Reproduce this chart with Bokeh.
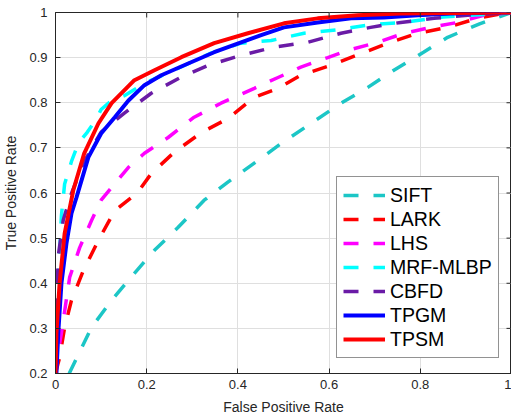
from bokeh.plotting import figure
from bokeh.models import FixedTicker, Legend, LegendItem, Range1d
from bokeh.embed import file_html
from bokeh.resources import INLINE
import math

# ---- data ----
sift_x = [0.03, 0.079, 0.123, 0.173, 0.217, 0.269, 0.326, 0.378, 0.444, 0.495, 0.56, 0.626, 0.685, 0.742, 0.807, 0.86, 0.93, 1.0]
sift_y = [0.2, 0.302, 0.362, 0.422, 0.473, 0.524, 0.584, 0.624, 0.672, 0.71, 0.754, 0.799, 0.834, 0.872, 0.912, 0.945, 0.975, 1.0]

lark_x = [0.0, 0.005, 0.009, 0.02, 0.035, 0.061, 0.094, 0.13, 0.18, 0.21, 0.26, 0.32, 0.378, 0.436, 0.488, 0.538, 0.604, 0.67, 0.735, 0.794, 0.86, 0.925, 0.983, 1.0]
lark_y = [0.2, 0.22, 0.235, 0.302, 0.362, 0.428, 0.495, 0.561, 0.601, 0.643, 0.69, 0.734, 0.765, 0.812, 0.832, 0.861, 0.883, 0.909, 0.934, 0.954, 0.967, 0.987, 0.998, 1.0]

lhs_x = [0.0, 0.004, 0.008, 0.013, 0.031, 0.053, 0.079, 0.1, 0.13, 0.16, 0.195, 0.247, 0.304, 0.363, 0.436, 0.488, 0.538, 0.597, 0.641, 0.707, 0.764, 0.823, 0.882, 0.939, 1.0]
lhs_y = [0.2, 0.23, 0.26, 0.29, 0.413, 0.479, 0.539, 0.584, 0.621, 0.657, 0.688, 0.723, 0.768, 0.799, 0.832, 0.856, 0.879, 0.9, 0.916, 0.934, 0.954, 0.967, 0.978, 0.994, 1.0]

mrf_x = [0.0, 0.004, 0.008, 0.013, 0.02, 0.035, 0.05, 0.07, 0.09, 0.1, 0.123, 0.15, 0.195, 0.26, 0.341, 0.407, 0.473, 0.545, 0.619, 0.691, 0.764, 0.85, 0.93, 1.0]
mrf_y = [0.2, 0.35, 0.45, 0.55, 0.62, 0.67, 0.71, 0.735, 0.765, 0.785, 0.805, 0.815, 0.843, 0.872, 0.91, 0.932, 0.938, 0.954, 0.962, 0.973, 0.978, 0.99, 0.995, 1.0]

cbfd_x = [0.0, 0.002, 0.006, 0.017, 0.035, 0.061, 0.08, 0.1, 0.13, 0.151, 0.21, 0.276, 0.335, 0.407, 0.479, 0.553, 0.626, 0.691, 0.757, 0.83, 0.904, 1.0]
cbfd_y = [0.2, 0.33, 0.46, 0.54, 0.599, 0.666, 0.7, 0.735, 0.76, 0.777, 0.821, 0.857, 0.883, 0.905, 0.923, 0.934, 0.954, 0.967, 0.978, 0.987, 0.994, 1.0]

tpgm_x = [0.002, 0.006, 0.013, 0.024, 0.035, 0.046, 0.072, 0.1, 0.13, 0.16, 0.195, 0.232, 0.291, 0.348, 0.407, 0.451, 0.501, 0.575, 0.648, 0.72, 0.794, 0.867, 1.0]
tpgm_y = [0.2, 0.289, 0.4, 0.488, 0.555, 0.59, 0.679, 0.732, 0.768, 0.805, 0.839, 0.861, 0.887, 0.912, 0.934, 0.95, 0.967, 0.978, 0.987, 0.989, 0.994, 0.998, 1.0]

tpsm_x = [0.0, 0.002, 0.009, 0.02, 0.039, 0.063, 0.094, 0.123, 0.173, 0.217, 0.276, 0.348, 0.422, 0.501, 0.575, 0.663, 0.757, 1.0]
tpsm_y = [0.2, 0.289, 0.4, 0.51, 0.606, 0.688, 0.754, 0.799, 0.85, 0.872, 0.901, 0.932, 0.954, 0.976, 0.987, 0.994, 0.998, 1.0]

series_names = ["SIFT", "LARK", "LHS", "MRF-MLBP", "CBFD", "TPGM", "TPSM"]
series_x = [sift_x, lark_x, lhs_x, mrf_x, cbfd_x, tpgm_x, tpsm_x]
series_y = [sift_y, lark_y, lhs_y, mrf_y, cbfd_y, tpgm_y, tpsm_y]
series_colors = ["#1CC6C6", "#FF0000", "#FF00FF", "#00FFFF", "#6A1BA6", "#0000FF", "#FF0000"]
series_dash = ["15 15", "15 15", "15 15", "15 15", "15 15", "solid", "solid"]

x_ticks = [0, 0.2, 0.4, 0.6, 0.8, 1]
x_tick_labels = ["0", "0.2", "0.4", "0.6", "0.8", "1"]
y_ticks = [0.2, 0.3, 0.4, 0.5, 0.6, 0.7, 0.8, 0.9, 1]
y_tick_labels = ["0.2", "0.3", "0.4", "0.5", "0.6", "0.7", "0.8", "0.9", "1"]

FONT = "Liberation Sans"
TXT = "#262626"

p = figure(width=511, height=420, output_backend="svg", toolbar_location=None,
           x_range=Range1d(0, 1), y_range=Range1d(0.2, 1),
           min_border_left=54, min_border_right=0, min_border_top=12, min_border_bottom=47,
           x_axis_label="False Positive Rate", y_axis_label="True Positive Rate")
p.background_fill_color = "white"
p.border_fill_color = "white"
p.outline_line_color = TXT
p.outline_line_width = 1

for ax, ticks, labels in ((p.xaxis[0], x_ticks, x_tick_labels), (p.yaxis[0], y_ticks, y_tick_labels)):
    ax.ticker = FixedTicker(ticks=ticks)
    ax.major_label_overrides = {t: l for t, l in zip(ticks, labels)}
    ax.major_tick_in = 5
    ax.major_tick_out = 0
    ax.minor_tick_line_color = None
    ax.axis_line_color = TXT
    ax.major_tick_line_color = TXT
    ax.major_label_text_font = FONT
    ax.major_label_text_font_size = "13px"
    ax.major_label_text_color = TXT
    ax.axis_label_text_font = FONT
    ax.axis_label_text_font_size = "14px"
    ax.axis_label_text_font_style = "normal"
    ax.axis_label_text_color = TXT
    ax.axis_label_standoff = 7
p.yaxis[0].major_label_standoff = 8
p.xaxis[0].major_label_standoff = 6

p.xgrid.ticker = FixedTicker(ticks=x_ticks)
p.ygrid.ticker = FixedTicker(ticks=y_ticks)
p.grid.grid_line_color = "#dfdfdf"
p.grid.grid_line_width = 1

items = []
for name, xs, ys, c, d in zip(series_names, series_x, series_y, series_colors, series_dash):
    lw = 4 if d == "solid" else 3.5
    r = p.line(xs, ys, line_color=c, line_width=lw, line_dash=d)
    items.append(LegendItem(label=name, renderers=[r]))

# box ticks along the top and right edges (half of each marker is clipped by the frame)
p.scatter(x_ticks, [1] * len(x_ticks), marker="dash", angle=math.pi / 2, size=10,
          line_color=TXT, line_width=1)
p.scatter([1] * len(y_ticks), y_ticks, marker="dash", size=10,
          line_color=TXT, line_width=1)

legend = Legend(items=items, location=(281, 15))
legend.label_text_font = FONT
legend.label_text_font_size = "19.5px"
legend.label_text_color = "#000000"
legend.glyph_width = 42
legend.glyph_height = 24
legend.label_height = 24
legend.label_standoff = 5
legend.spacing = 0
legend.padding = 6
legend.margin = 0
legend.border_line_color = TXT
legend.border_line_width = 1
legend.background_fill_color = "white"
legend.background_fill_alpha = 1
p.add_layout(legend, "center")

open("out.html", "w").write(file_html(p, INLINE))
